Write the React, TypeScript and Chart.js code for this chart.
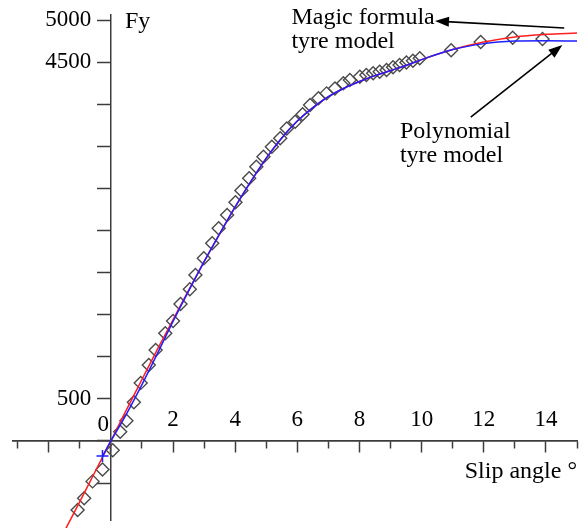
import React, { useEffect, useRef } from "react";
import { Chart, registerables } from "chart.js";

Chart.register(...registerables);

// Measured data (diamonds)
const measuredSlip = [-1.07, -0.86, -0.59, -0.27, 0.06, 0.3, 0.5, 0.74, 0.96, 1.22, 1.44, 1.75, 2.0, 2.24, 2.54, 2.72, 2.99, 3.26, 3.47, 3.74, 4.01, 4.2, 4.45, 4.68, 4.91, 5.18, 5.45, 5.66, 5.93, 6.17, 6.41, 6.68, 6.94, 7.21, 7.48, 7.69, 8.01, 8.22, 8.44, 8.65, 8.87, 9.08, 9.29, 9.51, 9.72, 9.94, 10.95, 11.9, 12.93, 13.89];
const measuredFy = [-820, -680, -480, -340, -110, 110, 240, 460, 690, 902, 1081, 1280, 1425, 1627, 1801, 1971, 2170, 2348, 2526, 2684, 2835, 2975, 3120, 3258, 3377, 3495, 3595, 3713, 3792, 3880, 3990, 4070, 4129, 4188, 4248, 4287, 4327, 4347, 4367, 4386, 4406, 4438, 4466, 4497, 4517, 4545, 4640, 4740, 4790, 4775];

// Magic formula tyre model (red)
const magicSlip = [-1.45, -1, -0.5, 0, 0.5, 1, 1.5, 2, 2.5, 3, 3.5, 4, 4.5, 5, 5.5, 6, 6.5, 7, 7.5, 8, 8.5, 9, 9.5, 10, 11, 12, 13, 14, 15];
const magicFy = [-1040, -720, -360, 0, 370, 730, 1090, 1440, 1790, 2130, 2460, 2780, 3080, 3360, 3600, 3800, 3960, 4090, 4190, 4270, 4340, 4400, 4460, 4530, 4650, 4740, 4800, 4830, 4846];

// Polynomial tyre model (blue)
const polySlip = [-0.27, 0, 0.5, 1, 1.5, 2, 2.5, 3, 3.5, 4, 4.5, 5, 5.5, 6, 6.5, 7, 7.5, 8, 8.5, 9, 9.5, 10, 11, 12, 13, 14, 15];
const polyFy = [-180, 0, 320, 670, 1040, 1420, 1780, 2130, 2460, 2780, 3080, 3360, 3600, 3800, 3960, 4090, 4190, 4270, 4340, 4400, 4460, 4530, 4650, 4720, 4750, 4755, 4751];

// Start marker of the polynomial curve
const polyStartSlip = [-0.27];
const polyStartFy = [-180];

// Axis ticks and labels
const xMajorTicks = [-2, 0, 2, 4, 6, 8, 10, 12, 14];
const xMinorTicks = [-3, -1, 1, 3, 5, 7, 9, 11, 13, 15];
const xLabelValues = [2, 4, 6, 8, 10, 12, 14];
const yTicks = [-500, 0, 500, 1000, 1500, 2000, 2500, 3000, 3500, 4000, 4500, 5000];
const yLabelValues = [500, 4500, 5000];
const yZeroLabel = "0";

const X_MIN = -3.15;
const X_MAX = 15;
const Y_MIN = -940;
const Y_MAX = 5060;

const FONT = "Liberation Serif";
const FONT_SIZE = 23;
const AXIS_COLOR = "#3c3c3c";
const CLIP = { left: 0, top: 0, right: 0, bottom: 9 };

const toPts = (xs: number[], ys: number[]) => xs.map((x, i) => ({ x, y: ys[i] }));
const setTicks = (vals: number[]) => (axis: any) => {
  axis.ticks = vals.map((value) => ({ value }));
};

const annotationPlugin = {
  id: "annotations",
  afterDraw(chart: any) {
    const { ctx, chartArea } = chart;
    const xs = chart.scales.x;
    const ys = chart.scales.y;
    const px = (v: number) => xs.getPixelForValue(v);
    const py = (v: number) => ys.getPixelForValue(v);
    ctx.save();
    ctx.fillStyle = "#000";
    ctx.strokeStyle = "#000";
    ctx.font = `24px "${FONT}"`;
    ctx.textBaseline = "alphabetic";
    ctx.textAlign = "left";
    ctx.fillText("Fy", px(0) + 14, py(5000) + 8);
    ctx.textAlign = "right";
    ctx.fillText("Slip angle °", chartArea.right, py(0) + 37);
    ctx.textAlign = "left";
    ctx.fillText("Magic formula", px(5.81), py(4952));
    ctx.fillText("tyre model", px(5.81), py(4667));
    ctx.fillText("Polynomial", px(9.3), py(3599));
    ctx.fillText("tyre model", px(9.3), py(3313));

    const arrow = (x1: number, y1: number, x2: number, y2: number) => {
      const ang = Math.atan2(y2 - y1, x2 - x1);
      const len = 14;
      const hw = 5;
      ctx.lineWidth = 1.6;
      ctx.beginPath();
      ctx.moveTo(x1, y1);
      ctx.lineTo(x2 - Math.cos(ang) * len * 0.8, y2 - Math.sin(ang) * len * 0.8);
      ctx.stroke();
      ctx.beginPath();
      ctx.moveTo(x2, y2);
      ctx.lineTo(x2 - Math.cos(ang) * len - Math.sin(ang) * hw, y2 - Math.sin(ang) * len + Math.cos(ang) * hw);
      ctx.lineTo(x2 - Math.cos(ang) * len + Math.sin(ang) * hw, y2 - Math.sin(ang) * len - Math.cos(ang) * hw);
      ctx.closePath();
      ctx.fill();
    };
    arrow(px(14.59), py(4905), px(10.43), py(4988));
    arrow(px(11.58), py(3848), px(14.53), py(4703));
    ctx.restore();
  },
};

export default function App() {
  const canvasRef = useRef<HTMLCanvasElement | null>(null);

  useEffect(() => {
    if (!canvasRef.current) return;
    const labelFont = (shown: number[]) => (c: any) => ({
      family: FONT,
      size: c.tick && shown.includes(c.tick.value) ? FONT_SIZE : 1,
      lineHeight: 1.2,
    });
    const chart = new Chart(canvasRef.current, {
      type: "scatter",
      data: {
        datasets: [
          {
            type: "line",
            label: "Magic formula tyre model",
            data: toPts(magicSlip, magicFy),
            borderColor: "rgb(255,30,30)",
            borderWidth: 1.5,
            pointRadius: 0,
            cubicInterpolationMode: "monotone",
            fill: false,
            clip: CLIP,
            order: 1,
          },
          {
            type: "line",
            label: "Polynomial tyre model",
            data: toPts(polySlip, polyFy),
            borderColor: "rgb(30,30,255)",
            borderWidth: 1.5,
            pointRadius: 0,
            cubicInterpolationMode: "monotone",
            fill: false,
            clip: CLIP,
            order: 0,
          },
          {
            label: "start",
            data: toPts(polyStartSlip, polyStartFy),
            pointStyle: "cross",
            pointRadius: 6,
            borderColor: "rgb(30,30,255)",
            borderWidth: 1.5,
            clip: CLIP,
            order: 0,
          },
          {
            label: "Measured",
            data: toPts(measuredSlip, measuredFy),
            pointStyle: "rectRot",
            pointRadius: 6.5,
            borderColor: "#4a4a4a",
            backgroundColor: "rgba(0,0,0,0)",
            borderWidth: 1.4,
            clip: CLIP,
            order: 2,
          },
        ],
      },
      options: {
        animation: false,
        responsive: true,
        maintainAspectRatio: false,
        devicePixelRatio: 1,
        layout: { padding: { left: 13, right: 11, top: 15, bottom: 0 } },
        plugins: { legend: { display: false }, tooltip: { enabled: false }, title: { display: false } },
        scales: {
          x: {
            type: "linear",
            position: { y: 0 },
            min: X_MIN,
            max: X_MAX,
            afterBuildTicks: setTicks(xMajorTicks),
            ticks: {
              autoSkip: false,
              maxRotation: 0,
              padding: -46,
              color: "#000",
              font: labelFont(xLabelValues),
              callback: (v: any) => (xLabelValues.includes(v) ? String(v) : ""),
            },
            grid: { drawOnChartArea: false, tickLength: 11, tickWidth: 1.5, tickColor: AXIS_COLOR },
            border: { color: AXIS_COLOR, width: 1.5 },
          },
          x2: {
            type: "linear",
            axis: "x",
            position: { y: 0 },
            min: X_MIN,
            max: X_MAX,
            afterBuildTicks: setTicks(xMinorTicks),
            ticks: { autoSkip: false, display: false },
            grid: { drawOnChartArea: false, tickLength: 7, tickWidth: 1.5, tickColor: AXIS_COLOR },
            border: { color: AXIS_COLOR, width: 1.5 },
          },
          y: {
            type: "linear",
            position: { x: 0 },
            min: Y_MIN,
            max: Y_MAX,
            afterBuildTicks: setTicks(yTicks),
            ticks: { autoSkip: false, display: false },
            grid: { drawOnChartArea: false, tickLength: 13, tickWidth: 1.5, tickColor: AXIS_COLOR },
            border: { color: AXIS_COLOR, width: 1.5 },
          },
          yLab: {
            type: "linear",
            axis: "y",
            position: { x: -0.63 },
            min: Y_MIN,
            max: Y_MAX,
            afterBuildTicks: setTicks([yTicks[0], ...yLabelValues]),
            ticks: {
              autoSkip: false,
              padding: 0,
              color: "#000",
              font: labelFont(yLabelValues),
              callback: (v: any) => (yLabelValues.includes(v) ? String(v) : ""),
            },
            grid: { display: false },
            border: { display: false },
          },
          yZero: {
            type: "linear",
            axis: "y",
            position: { x: -0.06 },
            min: Y_MIN,
            max: Y_MAX,
            afterBuildTicks: setTicks([yTicks[0], 0, yTicks[yTicks.length - 1]]),
            ticks: {
              autoSkip: false,
              padding: 0,
              labelOffset: -16,
              color: "#000",
              font: labelFont([0]),
              callback: (v: any) => (v === 0 ? yZeroLabel : ""),
            },
            grid: { display: false },
            border: { display: false },
          },
        },
      },
      plugins: [annotationPlugin],
    } as any);
    return () => chart.destroy();
  }, []);

  return (
    <div style={{ position: "fixed", left: 0, top: 0, width: 588, height: 528, background: "#fff" }}>
      <canvas ref={canvasRef} />
    </div>
  );
}
